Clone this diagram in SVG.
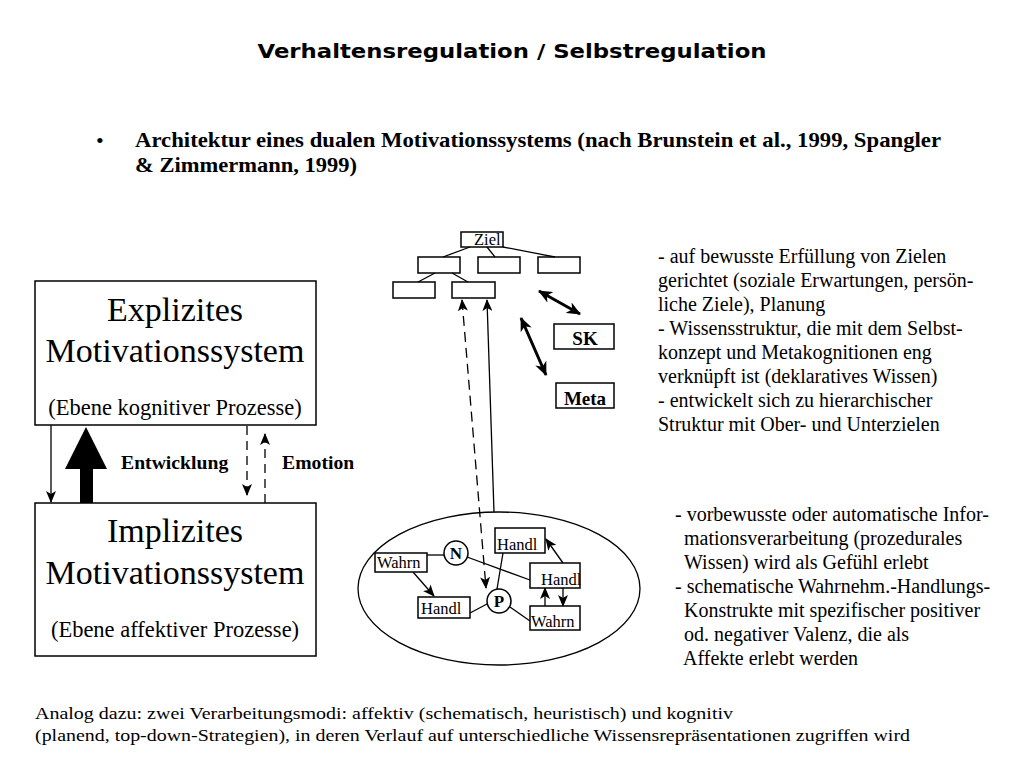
<svg xmlns="http://www.w3.org/2000/svg" width="1024" height="768" viewBox="0 0 1024 768">
<style>
.serif{font-family:"Liberation Serif","Times New Roman",serif;fill:#000}
.b{font-weight:bold}
.box{fill:#fff;stroke:#000;stroke-width:1.5}
.ln{fill:none;stroke:#000;stroke-width:1.3}
.thick{fill:none;stroke:#000;stroke-width:3}
.dash{stroke-dasharray:9,6}
.txt{font-size:20px}
.sm{font-size:16.5px}
</style>
<defs>
<marker id="ah" markerUnits="userSpaceOnUse" markerWidth="12" markerHeight="10" refX="11" refY="5" orient="auto-start-reverse">
<path d="M0,0 L12,5 L0,10 L3,5 Z" fill="#000"/>
</marker>
<marker id="ahb" markerUnits="userSpaceOnUse" markerWidth="14" markerHeight="12" refX="13" refY="6" orient="auto-start-reverse">
<path d="M0,0 L14,6 L0,12 L4,6 Z" fill="#000"/>
</marker>
</defs>
<rect width="1024" height="768" fill="#fff"/>

<text x="512" y="58" text-anchor="middle" font-family="DejaVu Sans, Verdana, sans-serif" font-weight="bold" font-size="20" textLength="509" lengthAdjust="spacingAndGlyphs">Verhaltensregulation / Selbstregulation</text>

<text x="96" y="148" class="serif" font-size="22">•</text>
<text x="135" y="147" class="serif b" font-size="21" textLength="806" lengthAdjust="spacingAndGlyphs">Architektur eines dualen Motivationssystems (nach Brunstein et al., 1999, Spangler</text>
<text x="135" y="172" class="serif b" font-size="21" textLength="222" lengthAdjust="spacingAndGlyphs">&amp; Zimmermann, 1999)</text>

<g id="explizit">
<rect x="35" y="281" width="281" height="144" class="box"/>
<text x="175" y="321" text-anchor="middle" class="serif" font-size="34">Explizites</text>
<text x="175" y="362" text-anchor="middle" class="serif" font-size="34">Motivationssystem</text>
<text x="175" y="415" text-anchor="middle" class="serif" font-size="22.5">(Ebene kognitiver Prozesse)</text>
</g>
<g id="implizit">
<rect x="35" y="503" width="281" height="153" class="box"/>
<text x="175" y="542" text-anchor="middle" class="serif" font-size="34">Implizites</text>
<text x="175" y="584" text-anchor="middle" class="serif" font-size="34">Motivationssystem</text>
<text x="175" y="637" text-anchor="middle" class="serif" font-size="22.5">(Ebene affektiver Prozesse)</text>
</g>

<g id="left-connectors">
<line x1="51" y1="425" x2="51" y2="502" class="ln" marker-end="url(#ah)"/>
<path d="M80,503 L80,469 L65,469 L86,427 L107,469 L93,469 L93,503 Z" fill="#000"/>
<line x1="247" y1="426" x2="247" y2="495" class="ln dash" stroke-dasharray="7,5" marker-end="url(#ah)"/>
<line x1="265" y1="503" x2="265" y2="434" class="ln dash" stroke-dasharray="7,5" marker-end="url(#ah)"/>
<text x="121" y="469" class="serif b" font-size="19.7">Entwicklung</text>
<text x="282" y="469" class="serif b" font-size="19.7">Emotion</text>
</g>

<g id="tree">
<g id="ziel"><rect x="461" y="232" width="42" height="15" class="box"/><text x="474" y="245" class="serif sm">Ziel</text></g>
<rect id="t21" x="418" y="257" width="42" height="16" class="box"/>
<rect id="t22" x="478" y="257" width="42" height="16" class="box"/>
<rect id="t23" x="538" y="257" width="42" height="16" class="box"/>
<rect id="t31" x="393" y="282" width="42" height="16" class="box"/>
<rect id="t32" x="452" y="282" width="43" height="16" class="box"/>
</g>
<g id="sk"><rect x="554" y="324" width="60" height="25" class="box"/><text x="585" y="345" text-anchor="middle" class="serif b" font-size="19">SK</text></g>
<g id="meta"><rect x="556" y="383" width="58" height="25" class="box"/><text x="585" y="405" text-anchor="middle" class="serif b" font-size="19">Meta</text></g>

<g id="connectors">
<line x1="470" y1="247" x2="443" y2="257" class="ln"/>
<line x1="487" y1="247" x2="495" y2="257" class="ln"/>
<line x1="503" y1="247" x2="555" y2="257" class="ln"/>
<line x1="435" y1="273" x2="418" y2="282" class="ln"/>
<line x1="452" y1="273" x2="468" y2="282" class="ln"/>
<line x1="539" y1="291" x2="580" y2="314" class="thick" marker-start="url(#ahb)" marker-end="url(#ahb)"/>
<line x1="521" y1="318" x2="546" y2="375" class="thick" marker-start="url(#ahb)" marker-end="url(#ahb)"/>
<line x1="462" y1="300" x2="486" y2="588" class="ln" stroke-dasharray="10,6" marker-start="url(#ah)" marker-end="url(#ah)"/>
<line x1="494" y1="512" x2="487" y2="300" class="ln" marker-end="url(#ah)"/>
</g>

<g id="affect">
<ellipse cx="499" cy="588.5" rx="141" ry="76.5" class="ln"/>
<g id="affect-links">
<line x1="427" y1="555" x2="444" y2="555" class="ln"/>
<line x1="467" y1="557" x2="530" y2="580" class="ln"/>
<line x1="413" y1="572" x2="434" y2="596" class="ln" marker-end="url(#ah)"/>
<line x1="470" y1="613" x2="487" y2="604" class="ln"/>
<line x1="497" y1="589" x2="503" y2="553" class="ln"/>
<line x1="510" y1="607" x2="530" y2="621" class="ln"/>
<line x1="563" y1="563" x2="546" y2="539" class="ln" marker-end="url(#ah)"/>
<line x1="545" y1="606" x2="545" y2="588" class="ln" marker-end="url(#ah)"/>
<line x1="563" y1="588" x2="563" y2="606" class="ln" marker-end="url(#ah)"/>
</g>
<g id="wahrn1"><rect x="375" y="553" width="52" height="19" class="box"/><text x="377" y="568" class="serif sm">Wahrn</text></g>
<g id="n"><circle cx="456" cy="553" r="12" class="box"/><text x="456" y="559" text-anchor="middle" class="serif b" font-size="17">N</text></g>
<g id="handl1"><rect x="495" y="528" width="50" height="25" class="box"/><text x="497" y="550" class="serif sm">Handl</text></g>
<g id="handl2"><rect x="530" y="563" width="50" height="25" class="box"/><text x="541" y="585" class="serif sm">Handl</text></g>
<g id="wahrn2"><rect x="530" y="606" width="50" height="24" class="box"/><text x="531" y="627" class="serif sm">Wahrn</text></g>
<g id="p"><circle cx="499" cy="601" r="12" class="box"/><text x="499" y="607" text-anchor="middle" class="serif b" font-size="17">P</text></g>
<g id="handl3"><rect x="418" y="597" width="52" height="21" class="box"/><text x="421" y="614" class="serif sm">Handl</text></g>
</g>

<g id="text-explicit" class="serif txt">
<text x="658" y="263">- auf bewusste Erfüllung von Zielen</text>
<text x="658" y="287">gerichtet (soziale Erwartungen, persön-</text>
<text x="658" y="311">liche Ziele), Planung</text>
<text x="658" y="335">- Wissensstruktur, die mit dem Selbst-</text>
<text x="658" y="359">konzept und Metakognitionen eng</text>
<text x="658" y="383">verknüpft ist (deklaratives Wissen)</text>
<text x="658" y="407">- entwickelt sich zu hierarchischer</text>
<text x="658" y="431">Struktur mit Ober- und Unterzielen</text>
</g>
<g id="text-implicit" class="serif txt">
<text x="675" y="521">- vorbewusste oder automatische Infor-</text>
<text x="684" y="545">mationsverarbeitung (prozedurales</text>
<text x="684" y="569">Wissen) wird als Gefühl erlebt</text>
<text x="675" y="593">- schematische Wahrnehm.-Handlungs-</text>
<text x="684" y="617">Konstrukte mit spezifischer positiver</text>
<text x="684" y="641">od. negativer Valenz, die als</text>
<text x="683" y="665">Affekte erlebt werden</text>
</g>

<text x="35" y="719" class="serif" font-size="17.5" textLength="698" lengthAdjust="spacingAndGlyphs">Analog dazu: zwei Verarbeitungsmodi: affektiv (schematisch, heuristisch) und kognitiv</text>
<text x="35" y="741" class="serif" font-size="17.5" textLength="875" lengthAdjust="spacingAndGlyphs">(planend, top-down-Strategien), in deren Verlauf auf unterschiedliche Wissensrepräsentationen zugriffen wird</text>
</svg>
